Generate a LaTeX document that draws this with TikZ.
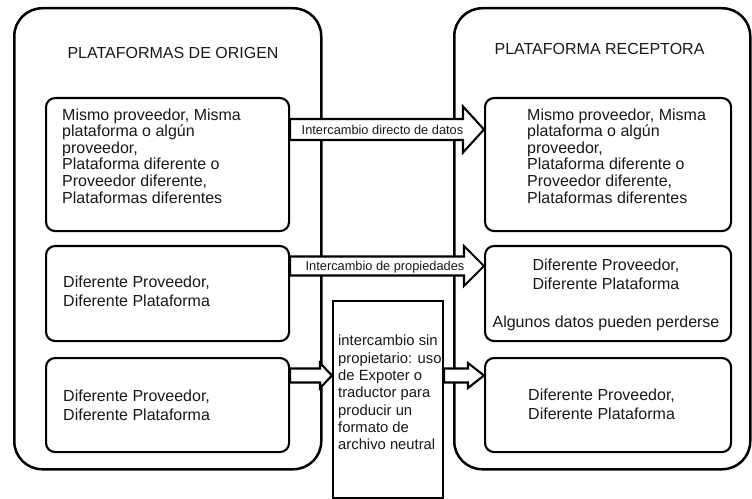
\documentclass[tikz,border=0pt]{standalone}
\usepackage{fontspec}
\setmainfont{Liberation Sans}
\usetikzlibrary{calc}
\begin{document}
\begin{tikzpicture}[x=1bp,y=-1bp,
  container/.style={draw=black, line width=2.5bp, rounded corners=28bp, fill=white,
    inner sep=0pt, anchor=north west},
  panel/.style={draw=black, line width=2.1bp, rounded corners=9bp, fill=white,
    inner sep=0pt, anchor=north west},
  txt/.style={inner sep=0pt, text=black!90, align=left, anchor=north west},
  big/.style={font=\fontsize{16bp}{#1}\selectfont},
  arrowshape/.style={draw=black, line width=2.1bp, fill=white, line join=miter},
  blockarrow/.style n args={3}{to path={
    let \p1=(\tikztostart), \p2=(\tikztotarget) in
    (\x1,\y1+#1) -- (\x2-#3,\y1+#1) -- (\x2-#3,\y1+#2) -- (\x2,\y1)
    -- (\x2-#3,\y1-#2) -- (\x2-#3,\y1-#1) -- (\x1,\y1-#1) -- cycle}},
  flowlabel/.style={inner sep=0pt, text=black!90, anchor=base,
    font=\fontsize{12.8bp}{14bp}\selectfont}]
\useasboundingbox (0,0) rectangle (752,499);

% the two platform groups
\node[container, minimum width=307bp, minimum height=461bp] (src) at (13,7) {};
\node[container, minimum width=296bp, minimum height=461bp] (dst) at (453,7) {};

\node[txt, anchor=north, big=18bp] (srctitle) at (173,46.7) {PLATAFORMAS DE ORIGEN};
\node[txt, anchor=north, big=18bp] (dsttitle) at (599.5,43.3) {PLATAFORMA RECEPTORA};

% source cases
\node[panel, minimum width=243bp, minimum height=133bp] (l1) at (45,97) {};
\node[panel, minimum width=243bp, minimum height=95bp]  (l2) at (45,245) {};
\node[panel, minimum width=243bp, minimum height=94bp]  (l3) at (45,357) {};

% receiving cases
\node[panel, minimum width=246bp, minimum height=133bp] (r1) at (484,97) {};
\node[panel, minimum width=246bp, minimum height=95bp]  (r2) at (484,245) {};
\node[panel, minimum width=246bp, minimum height=94bp]  (r3) at (484,357) {};

\node[txt, big=16.6bp] (l1text) at (62,108.3) {Mismo proveedor, Misma\\plataforma o algún\\proveedor,\\Plataforma diferente o\\Proveedor diferente,\\Plataformas diferentes};
\node[txt, big=16.6bp] (r1text) at (527,108.3) {Mismo proveedor, Misma\\plataforma o algún\\proveedor,\\Plataforma diferente o\\Proveedor diferente,\\Plataformas diferentes};

\node[txt, big=18.8bp] (l2text) at (63,276) {Diferente Proveedor,\\Diferente Plataforma};
\node[txt, big=19bp]   (l3text) at (63,389.3) {Diferente Proveedor,\\Diferente Plataforma};

\node[txt, big=19.2bp, align=center, anchor=north] (r2text) at (606,258.3)
  {Diferente Proveedor,\\Diferente Plataforma\\[19.2bp]Algunos datos pueden perderse};
\node[txt, big=19bp] (r3text) at (528,388.3) {Diferente Proveedor,\\Diferente Plataforma};

% neutral-format exchange
\node[draw=black, line width=2.1bp, fill=white, inner sep=0pt, anchor=north west,
  minimum width=110bp, minimum height=197bp] (mid) at (332,300) {};
\node[txt, font=\fontsize{14.8bp}{17.3bp}\selectfont] (midtext) at (338,335)
  {intercambio sin\\propietario: uso\\de Expoter o\\traductor para\\producir un\\formato de\\archivo neutral};

% exchange arrows
\draw[arrowshape, blockarrow={10.5bp}{23bp}{21bp}]
  ([yshift=-32.5bp]l1.north east) to ([yshift=-32.5bp]r1.north west);
\draw[arrowshape, blockarrow={9.5bp}{20bp}{20bp}]
  ([yshift=-21bp]l2.north east) to ([yshift=-21bp]r2.north west);
\draw[arrowshape, blockarrow={7bp}{12.5bp}{12bp}]
  ([yshift=-18.5bp]l3.north east) to ([yshift=-75.5bp]mid.north west);
\draw[arrowshape, blockarrow={7bp}{12.5bp}{16bp}]
  ([yshift=-75.5bp]mid.north east) to ([yshift=-18.5bp]r3.north west);

\node[flowlabel] (lab1) at (382.5,134.3) {Intercambio directo de datos};
\node[flowlabel] (lab2) at (385,270.7) {Intercambio de propiedades};
\end{tikzpicture}
\end{document}
